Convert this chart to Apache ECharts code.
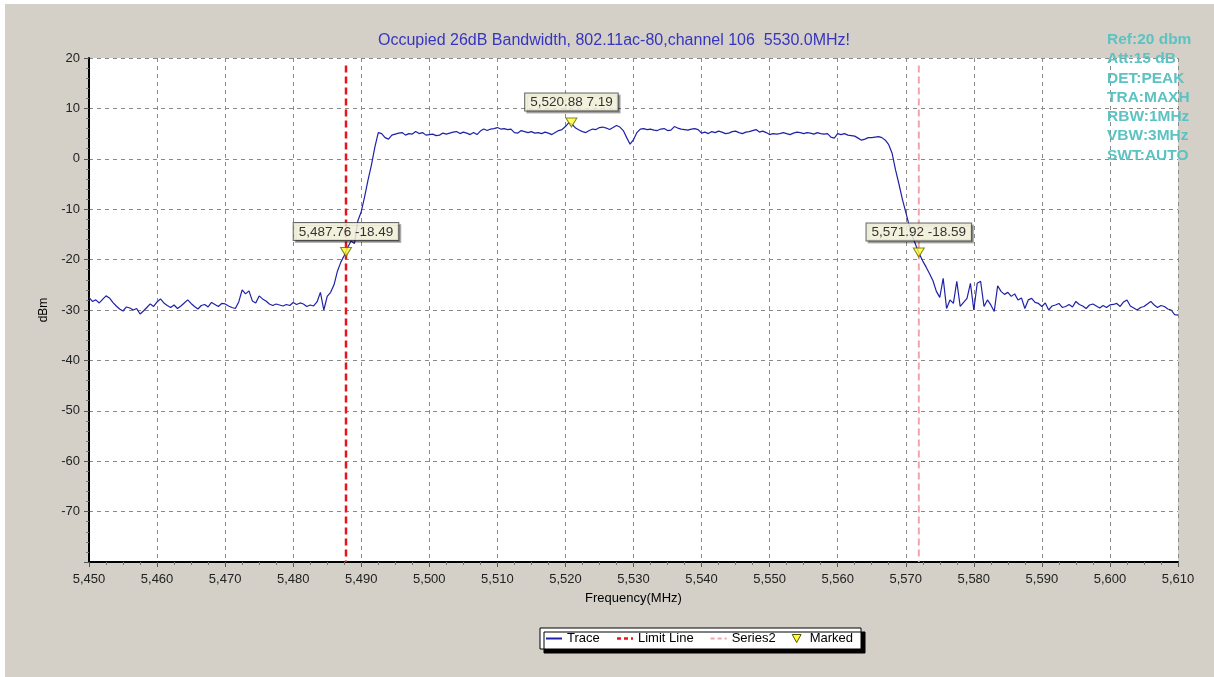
<!DOCTYPE html>
<html>
<head>
<meta charset="utf-8">
<script src="https://cdn.jsdelivr.net/npm/echarts@6/dist/echarts.min.js"></script>
<style>
  html, body { margin: 0; padding: 0; background: #fff; }
  #chart { width: 1214px; height: 677px; }
</style>
</head>
<body>
<div id="chart"></div>
<script>
  // Trace data, 0.5 MHz step starting at 5450 MHz
  const freqStart = 5450;
  const freqStep = 0.5;
  const traceLevels = [
    -27.5, -28.3, -28.0, -28.6, -27.9, -27.2, -27.6, -28.5, -29.2, -29.8, -30.2, -29.4, -29.6, -30.0, -29.7, -30.8, -30.2, -29.5, -28.8, -29.3,
    -28.4, -27.8, -28.6, -29.1, -29.5, -29.0, -29.7, -29.2, -28.6, -28.0, -28.7, -29.3, -29.8, -29.1, -28.9, -29.4, -28.5, -28.9, -29.3, -28.7,
    -28.8, -29.2, -29.5, -29.7, -28.4, -26.0, -26.8, -26.2, -28.2, -28.6, -27.2, -27.8, -28.2, -28.8, -29.1, -28.8, -29.0, -29.2, -28.9, -29.1,
    -28.5, -28.9, -28.6, -28.8, -29.3, -29.0, -29.2, -28.4, -26.5, -30.0, -27.3, -26.5, -25.0, -22.3, -20.5, -19.2, -17.6, -16.3, -16.8, -12.3,
    -10.5, -7.5, -4.2, -1.2, 2.3, 5.2, 5.0, 4.2, 3.9, 4.7, 4.9, 5.1, 5.2, 4.7, 5.0, 4.9, 5.4, 5.0, 5.2, 4.7,
    4.8, 4.9, 4.6, 4.7, 5.1, 4.9, 5.1, 5.3, 5.4, 5.0, 5.3, 5.1, 4.8, 5.2, 4.8, 5.5, 5.9, 5.6, 5.9, 6.0,
    6.2, 5.9, 6.0, 5.8, 5.9, 5.2, 5.1, 5.6, 5.4, 5.2, 5.4, 5.1, 5.2, 5.0, 5.3, 5.1, 4.8, 5.2, 5.6, 5.8,
    6.4, 7.2, 6.8, 6.1, 5.7, 5.4, 5.2, 5.6, 5.9, 5.8, 6.2, 6.3, 6.1, 5.8, 6.2, 6.6, 6.3, 5.6, 4.2, 2.9,
    3.8, 5.2, 5.9, 6.0, 5.8, 5.9, 5.7, 5.6, 5.9, 6.0, 5.6, 5.7, 6.4, 6.1, 5.9, 5.8, 5.7, 5.9, 6.0, 5.8,
    5.1, 5.3, 5.0, 5.4, 5.2, 5.5, 5.3, 5.0, 5.1, 5.4, 5.5, 5.2, 5.0, 5.3, 5.4, 5.6, 5.8, 5.3, 5.5, 5.2,
    4.8, 5.0, 4.9, 5.0, 5.2, 5.0, 4.8, 5.1, 5.3, 5.2, 5.0, 5.2, 5.1, 4.9, 5.2, 5.0, 4.9, 5.0, 4.3, 4.1,
    5.0, 4.8, 5.0, 4.7, 4.6, 4.5, 4.1, 3.7, 3.9, 4.2, 4.2, 4.3, 4.4, 4.2, 3.7, 2.8, 1.1, -2.2, -5.0, -8.0,
    -10.6, -13.2, -15.4, -17.2, -18.9, -20.3, -21.5, -22.8, -24.2, -26.3, -27.5, -23.7, -29.7, -28.0, -28.7, -24.3, -29.3, -28.5, -27.7, -24.7,
    -30.0, -24.7, -24.3, -29.3, -28.0, -29.0, -30.3, -25.2, -26.3, -26.9, -26.5, -27.3, -26.8, -28.0, -27.6, -29.7, -28.0, -27.7, -28.5, -28.7,
    -29.3, -28.6, -30.0, -29.2, -29.0, -28.7, -29.5, -29.3, -28.9, -29.4, -28.3, -28.9, -29.2, -29.7, -29.0, -28.8, -29.2, -29.6, -29.1, -29.5,
    -29.0, -28.9, -28.7, -29.3, -28.4, -28.0, -29.2, -29.6, -30.0, -29.5, -29.3, -28.8, -28.3, -29.0, -29.5, -29.1, -29.3, -29.8, -30.0, -30.9,
    -31.0
  ];

  // Markers
  const markerFreqs = [5487.76, 5520.88, 5571.92];
  const markerLevels = [-18.49, 7.19, -18.59];

  // Vertical lines
  const limitFreq = 5487.76;
  const series2Freq = 5571.92;
  const vLineTop = 18.5;

  // Axes
  const xMin = 5450, xMax = 5610, xStep = 10;
  const yMin = -80, yMax = 20, yStep = 10;

  const titleText = 'Occupied 26dB Bandwidth, 802.11ac-80,channel 106  5530.0MHz!';
  const infoLines = ['Ref:20 dbm', 'Att:15 dB', 'DET:PEAK', 'TRA:MAXH', 'RBW:1MHz', 'VBW:3MHz', 'SWT:AUTO'];
  const legendNames = ['Trace', 'Limit Line', 'Series2', 'Marked'];

  const FONT = 'Arial, "Liberation Sans", sans-serif';

  const traceData = traceLevels.map((v, i) => [freqStart + i * freqStep, v]);
  const markerData = markerFreqs.map((f, i) => [f, markerLevels[i]]);

  const fmtFreq = v => v.toLocaleString('en-US');

  const chart = echarts.init(document.getElementById('chart'));

  const option = {
    backgroundColor: '#fff',
    animation: false,
    textStyle: { fontFamily: FONT },
    graphic: [
      { type: 'rect', z: -10, shape: { x: 5, y: 4, width: 1209, height: 673 }, style: { fill: '#d4d0c8' } },
      {
        type: 'text', left: 1107, top: 30, z: 10,
        style: {
          text: infoLines.join('\n'),
          fill: '#5cc2c2',
          font: 'bold 15.5px ' + FONT,
          lineHeight: 19.3
        }
      }
    ],
    title: {
      text: titleText,
      left: 373,
      top: 28,
      textStyle: { color: '#3535c0', fontSize: 16, fontWeight: 'normal', fontFamily: FONT }
    },
    legend: {
      left: 540,
      top: 628,
      padding: [4, 8, 4, 5],
      itemGap: 16,
      itemWidth: 16,
      itemHeight: 8,
      backgroundColor: '#fff',
      borderColor: '#000',
      borderWidth: 1,
      borderRadius: 0,
      shadowColor: '#000',
      shadowOffsetX: 4,
      shadowOffsetY: 4,
      shadowBlur: 0,
      itemStyle: { opacity: 0 },
      textStyle: { color: '#000', fontSize: 13, fontFamily: FONT },
      data: [
        { name: legendNames[0] },
        { name: legendNames[1], lineStyle: { type: [4, 3], width: 2.5 } },
        { name: legendNames[2], lineStyle: { type: [4, 3], width: 2 } },
        { name: legendNames[3], icon: 'path://M0,0 L10,0 L5,9 Z', itemStyle: { opacity: 1, color: '#ffff33', borderColor: '#555500', borderWidth: 1 } }
      ]
    },
    grid: {
      left: 89, right: 36, top: 58, bottom: 115,
      show: true, backgroundColor: '#fff', borderWidth: 0
    },
    xAxis: {
      type: 'value',
      min: xMin, max: xMax, interval: xStep,
      name: 'Frequency(MHz)',
      nameLocation: 'middle',
      nameGap: 30,
      nameTextStyle: { color: '#000', fontSize: 13, fontFamily: FONT },
      axisLine: { show: true, onZero: false, lineStyle: { color: '#000', width: 2 } },
      axisTick: { show: true, length: 5, lineStyle: { color: '#555' } },
      minorTick: { show: true, splitNumber: 4, length: 3, lineStyle: { color: '#777' } },
      axisLabel: { color: '#222', fontSize: 13, margin: 11, formatter: fmtFreq },
      splitLine: { show: true, lineStyle: { color: '#8a8a8a', type: [4, 4], width: 1 } }
    },
    yAxis: {
      type: 'value',
      min: yMin, max: yMax, interval: yStep,
      name: 'dBm',
      nameLocation: 'middle',
      nameGap: 39,
      nameRotate: 90,
      nameTextStyle: { color: '#000', fontSize: 12, fontFamily: FONT },
      axisLine: { show: true, onZero: false, lineStyle: { color: '#000', width: 2 } },
      axisTick: { show: true, length: 5, lineStyle: { color: '#555' } },
      minorTick: { show: true, splitNumber: 5, length: 3, lineStyle: { color: '#777' } },
      axisLabel: {
        color: '#222', fontSize: 13, margin: 9,
        formatter: v => (v === yMin ? '' : String(v))
      },
      splitLine: { show: true, lineStyle: { color: '#8a8a8a', type: [4, 4], width: 1 } }
    },
    series: [
      {
        name: legendNames[0],
        type: 'line',
        data: traceData,
        showSymbol: false,
        symbol: 'none',
        lineStyle: { color: '#1f22a8', width: 1.2 },
        itemStyle: { color: '#1f22a8' },
        z: 3
      },
      {
        name: legendNames[1],
        type: 'line',
        data: [[limitFreq, vLineTop], [limitFreq, yMin]],
        symbol: 'none',
        lineStyle: { color: '#e8141c', width: 2.5, type: [7, 4] },
        itemStyle: { color: '#e8141c' },
        z: 2
      },
      {
        name: legendNames[2],
        type: 'line',
        data: [[series2Freq, vLineTop], [series2Freq, yMin]],
        symbol: 'none',
        lineStyle: { color: '#f2a4ac', width: 2, type: [7, 4] },
        itemStyle: { color: '#f2a4ac' },
        z: 2
      },
      {
        name: legendNames[3],
        type: 'scatter',
        data: markerData,
        symbol: 'triangle',
        symbolRotate: 180,
        symbolSize: [11, 9],
        itemStyle: { color: '#ffff33', borderColor: '#666600', borderWidth: 1 },
        label: {
          show: true,
          position: 'top',
          distance: 7,
          formatter: p => fmtFreq(p.value[0]) + ' ' + p.value[1],
          color: '#000',
          fontSize: 13.5,
          fontFamily: FONT,
          backgroundColor: '#ffffe6',
          borderColor: '#444',
          borderWidth: 1,
          padding: [2, 5, 1, 5],
          shadowColor: 'rgba(0,0,0,0.35)',
          shadowOffsetX: 2,
          shadowOffsetY: 2
        },
        z: 5
      }
    ]
  };

  chart.setOption(option);
</script>
</body>
</html>
